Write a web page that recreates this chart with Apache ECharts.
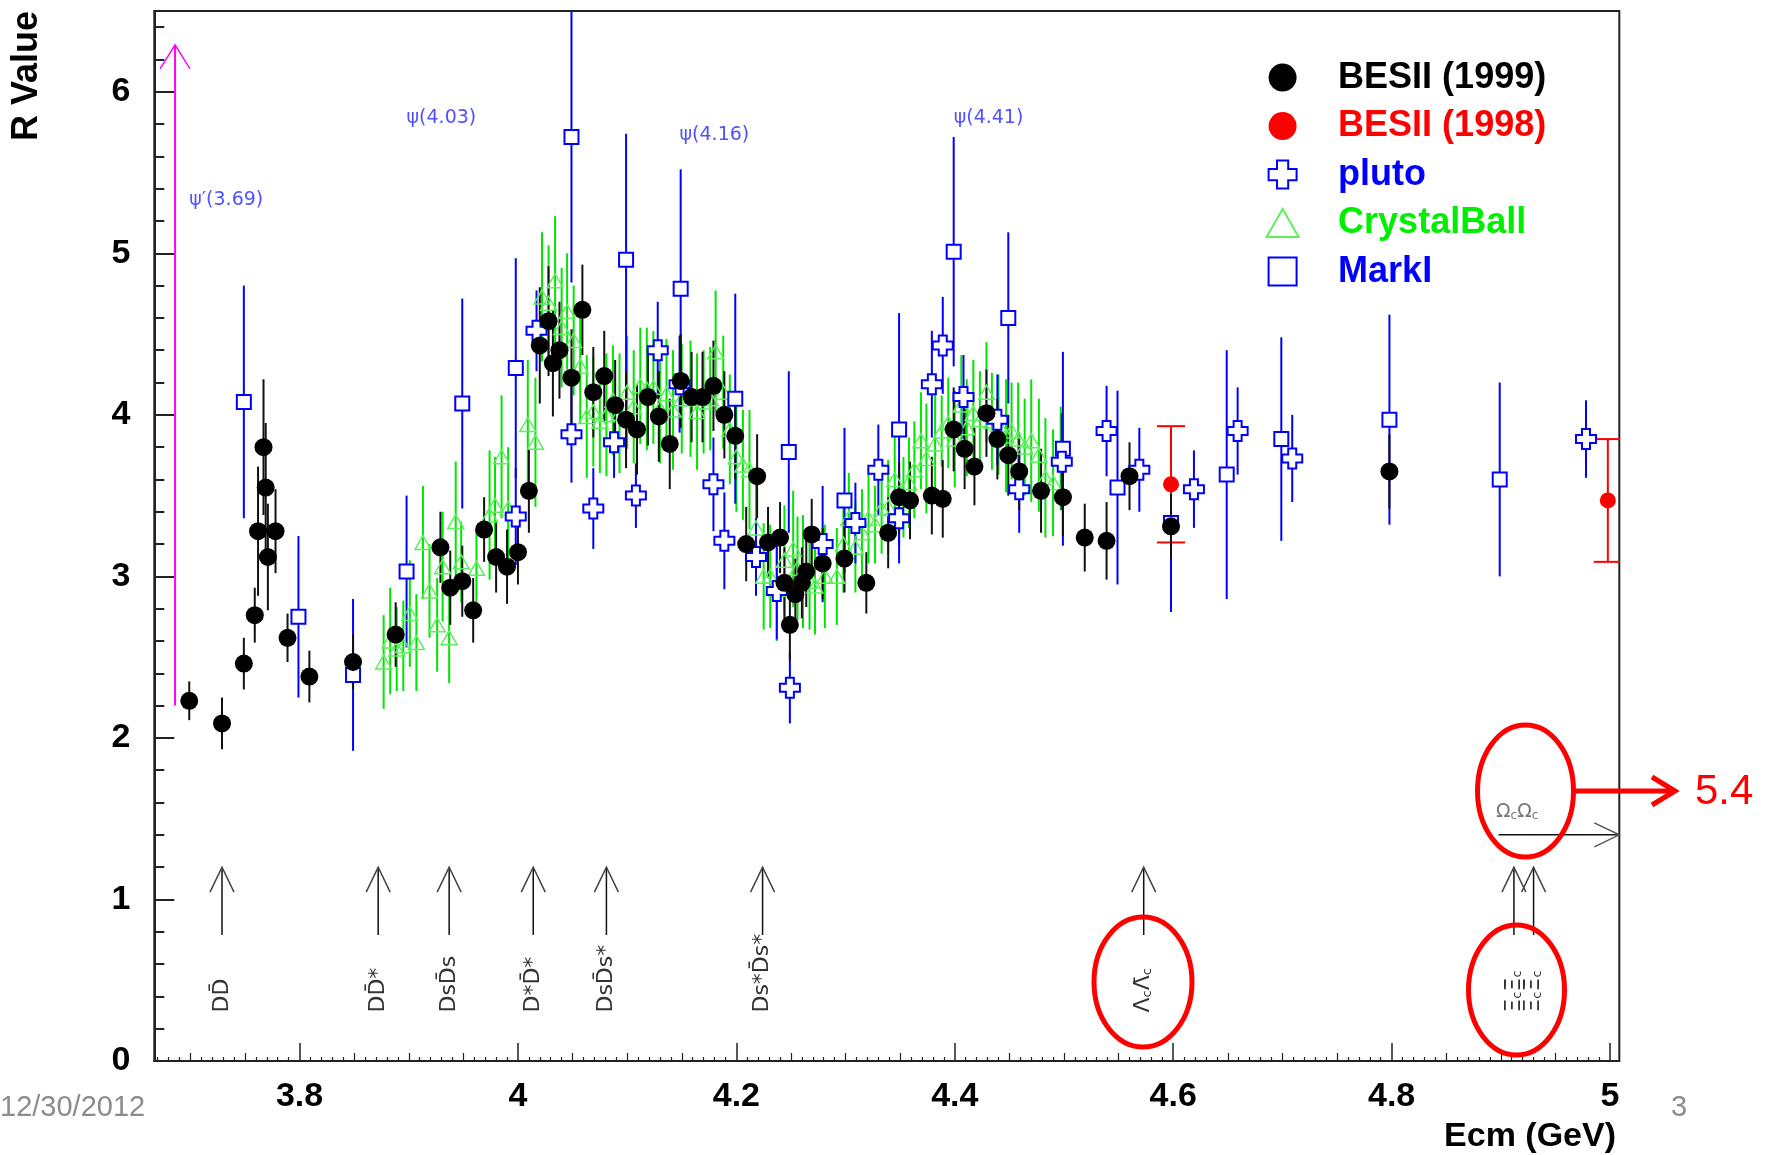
<!DOCTYPE html>
<html>
<head>
<meta charset="utf-8">
<title>R value vs Ecm</title>
<script src="https://cdn.jsdelivr.net/npm/echarts@6/dist/echarts.min.js"></script>
<style>
    html, body { margin: 0; padding: 0; background: #fff; }
    #chart { width: 1770px; height: 1155px; }
</style>
</head>
<body>
<div id="chart"></div>
<script>
// every row: [Ecm (GeV), R, error]
const besii1999 = [
    [3.699, 2.23, 0.12], [3.729, 2.09, 0.16], [3.749, 2.46, 0.16], [3.759, 2.76, 0.17],
    [3.762, 3.28, 0.40], [3.767, 3.80, 0.42], [3.769, 3.55, 0.40], [3.771, 3.12, 0.33],
    [3.778, 3.28, 0.26], [3.789, 2.62, 0.15], [3.809, 2.38, 0.16], [3.849, 2.47, 0.17],
    [3.888, 2.64, 0.20], [3.929, 3.18, 0.22], [3.938, 2.93, 0.23], [3.949, 2.97, 0.22],
    [3.959, 2.79, 0.20], [3.969, 3.29, 0.20], [3.980, 3.12, 0.22], [3.990, 3.06, 0.23],
    [4.000, 3.15, 0.20], [4.010, 3.53, 0.26], [4.020, 4.43, 0.36], [4.028, 4.58, 0.34],
    [4.032, 4.32, 0.33], [4.038, 4.40, 0.30], [4.049, 4.23, 0.30], [4.059, 4.65, 0.28],
    [4.069, 4.14, 0.28], [4.079, 4.24, 0.28], [4.089, 4.06, 0.28], [4.099, 3.97, 0.30],
    [4.109, 3.91, 0.28], [4.119, 4.11, 0.30], [4.129, 3.99, 0.28], [4.139, 3.82, 0.28],
    [4.149, 4.21, 0.29], [4.159, 4.11, 0.28], [4.169, 4.11, 0.28], [4.179, 4.18, 0.28],
    [4.189, 4.00, 0.27], [4.199, 3.87, 0.27], [4.209, 3.20, 0.23], [4.219, 3.62, 0.26],
    [4.229, 3.21, 0.22], [4.240, 3.24, 0.22], [4.244, 2.96, 0.22], [4.249, 2.70, 0.22],
    [4.254, 2.89, 0.22], [4.260, 2.96, 0.22], [4.264, 3.03, 0.22], [4.269, 3.26, 0.22],
    [4.279, 3.08, 0.22], [4.299, 3.11, 0.21], [4.319, 2.96, 0.19], [4.339, 3.27, 0.22],
    [4.349, 3.49, 0.22], [4.359, 3.47, 0.24], [4.379, 3.50, 0.24], [4.389, 3.48, 0.24],
    [4.399, 3.91, 0.26], [4.409, 3.79, 0.25], [4.418, 3.68, 0.24], [4.429, 4.01, 0.27],
    [4.439, 3.85, 0.25], [4.449, 3.75, 0.25], [4.459, 3.65, 0.24], [4.479, 3.53, 0.26],
    [4.499, 3.49, 0.24], [4.519, 3.24, 0.21], [4.539, 3.22, 0.24], [4.560, 3.62, 0.21],
    [4.598, 3.31, 0.20], [4.798, 3.65, 0.23]
];
const besii1998 = [[4.598, 3.57, 0.36], [4.998, 3.47, 0.38]];
const pluto = [
    [3.998, 3.37, 0.30], [4.017, 4.52, 0.25], [4.049, 3.88, 0.30], [4.069, 3.42, 0.25],
    [4.088, 3.83, 0.22], [4.108, 3.50, 0.20], [4.128, 4.40, 0.30], [4.148, 4.19, 0.30],
    [4.179, 3.57, 0.29], [4.189, 3.22, 0.30], [4.218, 3.12, 0.24], [4.237, 2.91, 0.30],
    [4.249, 2.31, 0.22], [4.279, 3.20, 0.36], [4.309, 3.33, 0.25], [4.330, 3.66, 0.28],
    [4.349, 3.36, 0.28], [4.379, 4.19, 0.33], [4.389, 4.43, 0.30], [4.408, 4.11, 0.26],
    [4.439, 3.97, 0.28], [4.459, 3.54, 0.27], [4.498, 3.71, 0.30], [4.539, 3.90, 0.28],
    [4.569, 3.66, 0.26], [4.619, 3.54, 0.24], [4.659, 3.90, 0.27], [4.709, 3.73, 0.27],
    [4.978, 3.85, 0.24]
];
const crystalBall = [
    [3.877, 2.47, 0.29], [3.883, 2.60, 0.33], [3.889, 2.55, 0.26], [3.895, 2.57, 0.28],
    [3.901, 2.77, 0.33], [3.907, 2.59, 0.30], [3.913, 3.21, 0.35], [3.919, 2.91, 0.29],
    [3.926, 2.70, 0.29], [3.931, 3.06, 0.34], [3.937, 2.62, 0.28], [3.943, 3.34, 0.37],
    [3.948, 3.09, 0.25], [3.962, 3.05, 0.24], [3.974, 3.38, 0.40], [3.979, 3.44, 0.30],
    [3.985, 3.74, 0.38], [3.991, 3.42, 0.38], [4.009, 3.94, 0.40], [4.016, 3.83, 0.40],
    [4.022, 4.73, 0.40], [4.028, 4.69, 0.36], [4.034, 4.83, 0.40], [4.040, 4.54, 0.37],
    [4.045, 4.64, 0.36], [4.051, 4.46, 0.34], [4.057, 4.30, 0.35], [4.063, 3.99, 0.38],
    [4.069, 4.02, 0.34], [4.075, 3.96, 0.32], [4.081, 4.00, 0.38], [4.087, 4.09, 0.34],
    [4.093, 4.01, 0.37], [4.100, 4.14, 0.35], [4.106, 4.05, 0.35], [4.112, 4.18, 0.36],
    [4.118, 4.16, 0.38], [4.124, 4.17, 0.35], [4.130, 4.04, 0.34], [4.136, 4.13, 0.34],
    [4.142, 4.03, 0.37], [4.150, 4.10, 0.34], [4.158, 4.10, 0.36], [4.164, 4.02, 0.36],
    [4.170, 4.08, 0.32], [4.176, 4.10, 0.32], [4.181, 4.39, 0.38], [4.188, 4.14, 0.35],
    [4.194, 3.91, 0.34], [4.200, 3.74, 0.34], [4.206, 3.69, 0.34], [4.212, 3.66, 0.37],
    [4.218, 3.30, 0.35], [4.225, 3.00, 0.33], [4.231, 3.00, 0.32], [4.237, 2.92, 0.32],
    [4.244, 3.10, 0.34], [4.252, 3.17, 0.36], [4.256, 3.05, 0.32], [4.261, 3.03, 0.35],
    [4.267, 2.97, 0.30], [4.272, 2.94, 0.30], [4.281, 3.00, 0.32], [4.292, 3.00, 0.30],
    [4.298, 3.20, 0.30], [4.303, 3.36, 0.28], [4.309, 3.18, 0.28], [4.315, 3.27, 0.27],
    [4.321, 3.36, 0.28], [4.327, 3.32, 0.24], [4.333, 3.42, 0.28], [4.339, 3.43, 0.29],
    [4.345, 3.60, 0.30], [4.353, 3.49, 0.25], [4.358, 3.58, 0.28], [4.363, 3.66, 0.30],
    [4.369, 3.84, 0.30], [4.374, 3.73, 0.34], [4.382, 3.82, 0.31], [4.388, 3.90, 0.22],
    [4.394, 3.95, 0.28], [4.400, 3.85, 0.30], [4.406, 4.06, 0.31], [4.411, 3.92, 0.30],
    [4.417, 4.01, 0.33], [4.423, 3.97, 0.30], [4.429, 4.14, 0.31], [4.434, 3.96, 0.30],
    [4.440, 3.94, 0.31], [4.447, 3.87, 0.35], [4.452, 3.90, 0.30], [4.458, 3.85, 0.35],
    [4.464, 3.80, 0.30], [4.470, 3.84, 0.38], [4.477, 3.75, 0.35], [4.483, 3.61, 0.37],
    [4.490, 3.58, 0.33], [4.497, 3.73, 0.32]
];
const markI = [
    [3.749, 4.08, 0.72], [3.799, 2.75, 0.50], [3.849, 2.39, 0.47], [3.898, 3.03, 0.47],
    [3.949, 4.07, 0.65], [3.998, 4.29, 0.68], [4.049, 5.72, 0.90], [4.099, 4.96, 0.78],
    [4.149, 4.78, 0.74], [4.199, 4.10, 0.65], [4.248, 3.77, 0.50], [4.299, 3.47, 0.45],
    [4.349, 3.91, 0.72], [4.399, 5.01, 0.71], [4.449, 4.60, 0.53], [4.499, 3.79, 0.60],
    [4.549, 3.55, 0.60], [4.598, 3.33, 0.55], [4.649, 3.63, 0.77], [4.699, 3.85, 0.63],
    [4.798, 3.97, 0.65], [4.899, 3.60, 0.60]
];

// open-charm pair thresholds (GeV) and their labels
const thresholdE = [3.729, 3.872, 3.937, 4.014, 4.081, 4.224, 4.573, 4.912, 4.930];
const thresholdNames = ['DD̄', 'DD̄*', 'DsD̄s', 'D*D̄*', 'DsD̄s*', 'Ds*D̄s*',
    '{t|Λ}{s|c}{t|Λ̄}{s|c}', '{t|Ξ}{s|c}{t|Ξ̄}{s|c}', '{t|Ξ}{s|c}{t|Ξ̄}{s|c}'];

// resonance names, anchored at [Ecm, R]
const resonanceNames = ['ψ′(3.69)', 'ψ(4.03)', 'ψ(4.16)', 'ψ(4.41)'];
const resonanceAt = [[3.699, 5.33], [3.898, 5.84], [4.148, 5.73], [4.399, 5.84]];

// x / y tick labels
const xTicks = [3.8, 4.0, 4.2, 4.4, 4.6, 4.8, 5.0];
const xTickLabels = ['3.8', '4', '4.2', '4.4', '4.6', '4.8', '5'];
const yTicks = [0, 1, 2, 3, 4, 5, 6];
const yTickLabels = ['0', '1', '2', '3', '4', '5', '6'];

const X_MIN = 3.667, X_MAX = 5.0085, Y_MIN = 0, Y_MAX = 6.5;

let xMid = [], xSmall = [], yMinor = [];
for (let i = 367; i <= 500; i++) {
    if (i % 5 !== 0) xSmall.push(i / 100);
    else if (i % 20 !== 0) xMid.push(i / 100);
}
for (let i = 1; i <= 32; i++) {
    if (i % 5 !== 0) yMinor.push(i / 5);
}

const BOLD = 'Liberation Sans';

function errorBars(name, data, color, cap) {
    return {
        name: name,
        type: 'custom',
        silent: true,
        clip: true,
        data: data,
        encode: {x: 0, y: 1},
        renderItem: function (params, api) {
            let x = api.value(0), y = api.value(1), e = api.value(2);
            let hi = api.coord([x, Math.min(y + e, Y_MAX)]);
            let lo = api.coord([x, Math.max(y - e, Y_MIN)]);
            let kids = [{
                type: 'line',
                shape: {x1: hi[0], y1: hi[1], x2: lo[0], y2: lo[1]},
                style: {stroke: color, lineWidth: 2}
            }];
            if (cap) {
                kids.push({type: 'line', shape: {x1: hi[0] - cap, y1: hi[1], x2: hi[0] + cap, y2: hi[1]},
                    style: {stroke: color, lineWidth: 2}});
                kids.push({type: 'line', shape: {x1: lo[0] - cap, y1: lo[1], x2: lo[0] + cap, y2: lo[1]},
                    style: {stroke: color, lineWidth: 2}});
            }
            return {type: 'group', children: kids};
        }
    };
}

function markers(name, data, symbol, size, itemStyle) {
    return {
        name: name,
        type: 'scatter',
        silent: true,
        data: data.map(d => [d[0], d[1]]),
        symbol: symbol,
        symbolSize: size,
        symbolKeepAspect: true,
        itemStyle: Object.assign({opacity: 1}, itemStyle)
    };
}

// open "V" arrow head, ROOT style
function openHead(tip, from, len, half) {
    let dx = tip[0] - from[0], dy = tip[1] - from[1];
    let d = Math.sqrt(dx * dx + dy * dy) || 1;
    let ux = dx / d, uy = dy / d;
    let bx = tip[0] - ux * len, by = tip[1] - uy * len;
    return [[bx - uy * half, by + ux * half], tip, [bx + uy * half, by - ux * half]];
}

const crossPath = 'path://M3,0H7V3H10V7H7V10H3V7H0V3H3Z';
const trianglePath = 'path://M5,0L10,8.7L0,8.7Z';
const squarePath = 'path://M0,0H10V10H0Z';

let chart = echarts.init(document.getElementById('chart'));

let option = {
    animation: false,
    backgroundColor: '#fff',
    grid: {
        left: 154.3, right: 150.7, top: 11, bottom: 94,
        show: true, borderColor: '#222', borderWidth: 2,
        outerBoundsMode: 'none'
    },
    legend: {
        orient: 'vertical',
        left: 1260.5,
        top: 54.6,
        itemWidth: 101,
        itemHeight: 28,
        itemGap: 12.5,
        selectedMode: false,
        textStyle: {fontFamily: BOLD, fontWeight: 'bold', fontSize: 36},
        data: [
            {name: 'BESII (1999)', textStyle: {color: '#000'}},
            {name: 'BESII (1998)', textStyle: {color: '#ff0000'}},
            {name: 'pluto', textStyle: {color: '#0000ff'}},
            {name: 'CrystalBall', textStyle: {color: '#00ee00'}},
            {name: 'MarkI', textStyle: {color: '#0000ff'}}
        ]
    },
    xAxis: [{
        type: 'value', min: X_MIN, max: X_MAX, position: 'bottom',
        axisLine: {show: true, onZero: false, lineStyle: {color: '#222', width: 2}},
        axisTick: {show: true, inside: true, length: 18, customValues: xTicks, lineStyle: {color: '#222', width: 1.5}},
        axisLabel: {
            customValues: xTicks, margin: 19,
            fontFamily: BOLD, fontWeight: 'bold', fontSize: 34, color: '#000',
            formatter: v => {
                let i = xTicks.findIndex(t => Math.abs(t - v) < 1e-6);
                return i >= 0 ? xTickLabels[i] : '';
            }
        },
        splitLine: {show: false}
    }, {
        type: 'value', min: X_MIN, max: X_MAX, position: 'bottom',
        axisLine: {show: false, onZero: false},
        axisTick: {show: true, inside: true, length: 8, customValues: xMid, lineStyle: {color: '#222', width: 1.2}},
        axisLabel: {show: false},
        splitLine: {show: false}
    }, {
        type: 'value', min: X_MIN, max: X_MAX, position: 'bottom',
        axisLine: {show: false, onZero: false},
        axisTick: {show: true, inside: true, length: 4, customValues: xSmall, lineStyle: {color: '#222', width: 1.2}},
        axisLabel: {show: false},
        splitLine: {show: false}
    }],
    yAxis: [{
        type: 'value', min: Y_MIN, max: Y_MAX, position: 'left',
        axisLine: {show: true, onZero: false, lineStyle: {color: '#222', width: 2}},
        axisTick: {show: true, inside: true, length: 20, customValues: yTicks, lineStyle: {color: '#222', width: 2}},
        axisLabel: {
            customValues: yTicks, margin: 24,
            fontFamily: BOLD, fontWeight: 'bold', fontSize: 34, color: '#000',
            formatter: v => {
                let i = yTicks.findIndex(t => Math.abs(t - v) < 1e-6);
                return i >= 0 ? yTickLabels[i] : '';
            }
        },
        splitLine: {show: false}
    }, {
        type: 'value', min: Y_MIN, max: Y_MAX, position: 'left',
        axisLine: {show: false, onZero: false},
        axisTick: {show: true, inside: true, length: 10, customValues: yMinor, lineStyle: {color: '#222', width: 2}},
        axisLabel: {show: false},
        splitLine: {show: false}
    }],
    series: [
        // thresholds, psi' line and the Omega_c arrow
        {
            name: 'thresholds',
            type: 'custom',
            silent: true,
            data: thresholdE.map(e => [e, 1]),
            encode: {x: 0, y: 1},
            renderItem: function (params, api) {
                let x = api.value(0);
                let a = api.coord([x, 0.78]), b = api.coord([x, 1.2]), t = api.coord([x, 0.30]);
                return {
                    type: 'group',
                    children: [
                        {type: 'line', shape: {x1: a[0], y1: a[1], x2: b[0], y2: b[1]},
                            style: {stroke: '#111', lineWidth: 1.5}},
                        {type: 'polyline', shape: {points: openHead(b, a, 25, 12)},
                            style: {stroke: '#444', lineWidth: 1.5, fill: 'none'}},
                        {type: 'text', x: t[0], y: t[1], rotation: Math.PI / 2,
                            style: {
                                text: thresholdNames[params.dataIndex],
                                fill: '#333', fontSize: 22, fontFamily: 'DejaVu Sans',
                                align: 'left', verticalAlign: 'middle',
                                rich: {t: {fontSize: 22, fontFamily: 'DejaVu Sans', fill: '#333'},
                                    s: {fontSize: 13, fontFamily: 'DejaVu Sans', fill: '#333', padding: [8, 0, 0, 0]}}
                            }}
                    ]
                };
            }
        },
        {
            name: 'arrows',
            type: 'custom',
            silent: true,
            data: [[3.686, 2.20, 3.686, 6.29], [4.898, 1.40, X_MAX, 1.40]],
            encode: {x: 0, y: 1},
            renderItem: function (params, api) {
                let a = api.coord([api.value(0), api.value(1)]);
                let b = api.coord([api.value(2), api.value(3)]);
                let magenta = params.dataIndex === 0;
                let col = magenta ? '#ff00ff' : '#111';
                let kids = [
                    {type: 'line', shape: {x1: a[0], y1: a[1], x2: b[0], y2: b[1]},
                        style: {stroke: col, lineWidth: magenta ? 2 : 1.5}},
                    {type: 'polyline', shape: {points: openHead(b, a, magenta ? 24 : 25, magenta ? 15 : 12)},
                        style: {stroke: magenta ? '#ff00ff' : '#555', lineWidth: 1.5, fill: 'none'}}
                ];
                if (!magenta) {
                    let c = api.coord([4.915, 1.54]);
                    kids.push({type: 'text', x: c[0], y: c[1],
                        style: {text: '{t|Ω}{s|c}{t|Ω}{s|c}', align: 'center', verticalAlign: 'middle',
                            rich: {t: {fontSize: 19, fontFamily: 'DejaVu Sans', fill: '#777'},
                                s: {fontSize: 12, fontFamily: 'DejaVu Sans', fill: '#777', padding: [8, 0, 0, 0]}}}});
                }
                return {type: 'group', children: kids};
            }
        },
        {
            name: 'resonances',
            type: 'custom',
            silent: true,
            data: resonanceAt,
            encode: {x: 0, y: 1},
            renderItem: function (params, api) {
                let p = api.coord([api.value(0), api.value(1)]);
                return {type: 'text', x: p[0], y: p[1],
                    style: {text: resonanceNames[params.dataIndex], fill: '#5050ff',
                        fontSize: 19, fontFamily: 'DejaVu Sans', align: 'left', verticalAlign: 'middle'}};
            }
        },
        errorBars('CrystalBall err', crystalBall, '#00e600', 0),
        markers('CrystalBall', crystalBall, trianglePath, 16,
            {color: 'rgba(255,255,255,0)', borderColor: '#5cf05c', borderWidth: 1.5}),
        errorBars('MarkI err', markI, '#0000ff', 0),
        markers('MarkI', markI, squarePath, 14, {color: '#fff', borderColor: '#0000ff', borderWidth: 2}),
        errorBars('pluto err', pluto, '#0000ff', 0),
        markers('pluto', pluto, crossPath, 20, {color: '#fff', borderColor: '#0000ff', borderWidth: 2}),
        errorBars('BESII (1998) err', besii1998, '#ff0000', 14),
        errorBars('BESII (1999) err', besii1999, '#111', 0),
        markers('BESII (1998)', besii1998, 'circle', 16, {color: '#ff0000'}),
        markers('BESII (1999)', besii1999, 'circle', 18, {color: '#000'})
    ],
    graphic: [
        {type: 'text', x: 27, y: 76, rotation: Math.PI / 2,
            style: {text: 'R Value', fontFamily: BOLD, fontWeight: 'bold', fontSize: 36, fill: '#000',
                align: 'center', verticalAlign: 'middle'}},
        {type: 'text', x: 1616, y: 1137,
            style: {text: 'Ecm (GeV)', fontFamily: BOLD, fontWeight: 'bold', fontSize: 34, fill: '#000',
                align: 'right', verticalAlign: 'middle'}},
        {type: 'text', x: 0, y: 1108,
            style: {text: '12/30/2012', fontFamily: 'Liberation Sans', fontSize: 29, fill: '#8c8c8c',
                align: 'left', verticalAlign: 'middle'}},
        {type: 'text', x: 1679, y: 1108,
            style: {text: '3', fontFamily: 'Liberation Sans', fontSize: 29, fill: '#8c8c8c',
                align: 'center', verticalAlign: 'middle'}},
        // red hand-drawn marks on the slide
        {type: 'ellipse', z: 100, shape: {cx: 1525.5, cy: 791, rx: 48, ry: 66},
            style: {fill: 'none', stroke: '#ff0000', lineWidth: 5}},
        {type: 'ellipse', z: 100, shape: {cx: 1143, cy: 982, rx: 49, ry: 65},
            style: {fill: 'none', stroke: '#ff0000', lineWidth: 5}},
        {type: 'ellipse', z: 100, shape: {cx: 1516.5, cy: 990, rx: 48, ry: 65},
            style: {fill: 'none', stroke: '#ff0000', lineWidth: 5}},
        {type: 'line', z: 100, shape: {x1: 1574, y1: 791, x2: 1673, y2: 791},
            style: {stroke: '#ff0000', lineWidth: 5}},
        {type: 'polyline', z: 100, shape: {points: [[1652, 777], [1675, 791], [1652, 805]]},
            style: {stroke: '#ff0000', lineWidth: 5, fill: 'none'}},
        {type: 'text', z: 100, x: 1695, y: 792,
            style: {text: '5.4', fontFamily: 'Liberation Sans', fontSize: 42, fill: '#ff0000',
                align: 'left', verticalAlign: 'middle'}}
    ]
};

chart.setOption(option);
</script>
</body>
</html>
